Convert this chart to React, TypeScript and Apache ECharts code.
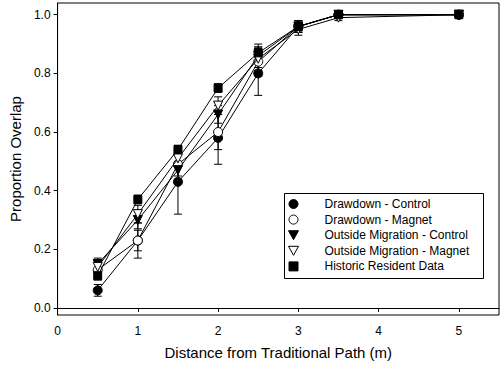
import React, { useEffect, useRef } from "react";
import * as echarts from "echarts";

const xValues = [0.5, 1, 1.5, 2, 2.5, 3, 3.5, 5];
const seriesNames = [
  "Drawdown - Control",
  "Drawdown - Magnet",
  "Outside Migration - Control",
  "Outside Migration - Magnet",
  "Historic Resident Data",
];
const drawdownControl = [0.06, 0.23, 0.43, 0.58, 0.8, 0.96, 1.0, 1.0];
const drawdownControlErr = [0.02, 0.035, 0.11, 0.09, 0.075, 0.02, 0.01, 0.005];
const drawdownMagnet = [0.13, 0.23, 0.49, 0.6, 0.84, 0.96, 1.0, 1.0];
const drawdownMagnetErr = [0.03, 0.06, 0.04, 0.06, 0.05, 0.02, 0.01, 0.005];
const outsideControl = [0.15, 0.3, 0.47, 0.66, 0.86, 0.96, 1.0, 1.0];
const outsideControlErr = [0.02, 0.03, 0.03, 0.03, 0.04, 0.02, 0.01, 0.005];
const outsideMagnet = [0.14, 0.32, 0.51, 0.69, 0.85, 0.95, 0.99, 1.0];
const outsideMagnetErr = [0.02, 0.03, 0.03, 0.03, 0.04, 0.02, 0.01, 0.005];
const historic = [0.11, 0.37, 0.54, 0.75, 0.87, 0.96, 1.0, 1.0];
const historicErr = [0.015, 0.015, 0.015, 0.015, 0.015, 0.015, 0.005, 0.005];
const yTicks = [0, 0.2, 0.4, 0.6, 0.8, 1.0];
const xTicks = [0, 1, 2, 3, 4, 5];

const FONT = "Liberation Sans, Arial, sans-serif";
const triDown = "path://M0,0 L10,0 L5,9 Z";
const square = "path://M0,0 L10,0 L10,10 L0,10 Z";

export default function App() {
  const ref = useRef<HTMLDivElement>(null);
  useEffect(() => {
    if (!ref.current) return;
    const chart = echarts.init(ref.current, undefined, { renderer: "svg" });
    const values = [drawdownControl, drawdownMagnet, outsideControl, outsideMagnet, historic];
    const errs = [drawdownControlErr, drawdownMagnetErr, outsideControlErr, outsideMagnetErr, historicErr];
    const symbols = ["circle", "circle", "triangle", "triangle", "rect"];
    const fills = ["#000", "#fff", "#000", "#fff", "#000"];
    const sizes = [9, 9, 9, 9, 8];
    const legendIcons = ["circle", "circle", triDown, triDown, square];

    const errSeries = values.map((vals, si) => ({
      type: "custom",
      name: "err" + si,
      z: 1,
      silent: true,
      data: xValues.map((x, i) => [x, vals[i] - errs[si][i], vals[i] + errs[si][i]]),
      renderItem: (params: any, api: any) => {
        const x = api.value(0);
        const lo = api.coord([x, api.value(1)]);
        const hi = api.coord([x, api.value(2)]);
        const hw = 4;
        const style = { stroke: "#000", lineWidth: 1 };
        return {
          type: "group",
          children: [
            { type: "line", shape: { x1: lo[0], y1: lo[1], x2: hi[0], y2: hi[1] }, style },
            { type: "line", shape: { x1: lo[0] - hw, y1: lo[1], x2: lo[0] + hw, y2: lo[1] }, style },
            { type: "line", shape: { x1: hi[0] - hw, y1: hi[1], x2: hi[0] + hw, y2: hi[1] }, style },
          ],
        };
      },
    }));

    const lineSeries = values.map((vals, si) => ({
      type: "line",
      name: seriesNames[si],
      z: 3 + si,
      data: xValues.map((x, i) => [x, vals[i]]),
      symbol: symbols[si],
      symbolSize: sizes[si],
      symbolRotate: symbols[si] === "triangle" ? 180 : 0,
      showAllSymbol: true,
      lineStyle: { color: "#000", width: 1 },
      itemStyle: { color: fills[si], borderColor: "#000", borderWidth: 1 },
    }));

    chart.setOption({
      animation: false,
      backgroundColor: "#fff",
      textStyle: { fontFamily: FONT },
      grid: {
        left: 41,
        right: 1,
        top: 3,
        bottom: 45,
        show: true,
        borderColor: "#000",
        borderWidth: 1,
        containLabel: false,
      },
      legend: {
        orient: "vertical",
        left: 288,
        top: 198,
        itemWidth: 24,
        itemHeight: 9,
        itemGap: 3.6,
        padding: 0,
        symbolKeepAspect: true,
        data: seriesNames.map((n, i) => ({
          name: n,
          icon: legendIcons[i],
          itemStyle: { color: fills[i], borderColor: "#000", borderWidth: 1 },
        })),
        textStyle: { fontFamily: FONT, fontSize: 12, color: "#000", padding: [0, 0, 0, 14] },
      },
      graphic: [
        {
          type: "rect",
          shape: { x: 284.5, y: 193.5, width: 199, height: 85 },
          style: { fill: "none", stroke: "#000", lineWidth: 1 },
          z: 0,
        },
      ],
      xAxis: {
        type: "value",
        min: 0,
        max: 5.5,
        name: "Distance from Traditional Path (m)",
        nameLocation: "middle",
        nameGap: 30,
        nameTextStyle: { fontFamily: FONT, fontSize: 15, color: "#000" },
        axisLine: { show: true, lineStyle: { color: "#000", width: 1 } },
        axisTick: { show: true, inside: false, length: 4, customValues: xTicks, lineStyle: { color: "#000" } },
        axisLabel: { customValues: xTicks, fontFamily: FONT, fontSize: 12, color: "#000", margin: 10 },
        splitLine: { show: false },
      },
      yAxis: {
        type: "value",
        min: -0.024,
        max: 1.04,
        name: "Proportion Overlap",
        nameLocation: "middle",
        nameGap: 33,
        nameTextStyle: { fontFamily: FONT, fontSize: 15, color: "#000" },
        axisLine: { show: true, lineStyle: { color: "#000", width: 1 } },
        axisTick: { show: true, inside: false, length: 4, customValues: yTicks, lineStyle: { color: "#000" } },
        axisLabel: {
          customValues: yTicks,
          fontFamily: FONT,
          fontSize: 12,
          color: "#000",
          margin: 7,
          formatter: (v: number) => v.toFixed(1),
        },
        splitLine: { show: false },
      },
      series: [...errSeries, ...lineSeries],
    });
    return () => chart.dispose();
  }, []);
  return <div ref={ref} style={{ width: 500, height: 365, position: "absolute", left: 0, top: 0 }} />;
}
